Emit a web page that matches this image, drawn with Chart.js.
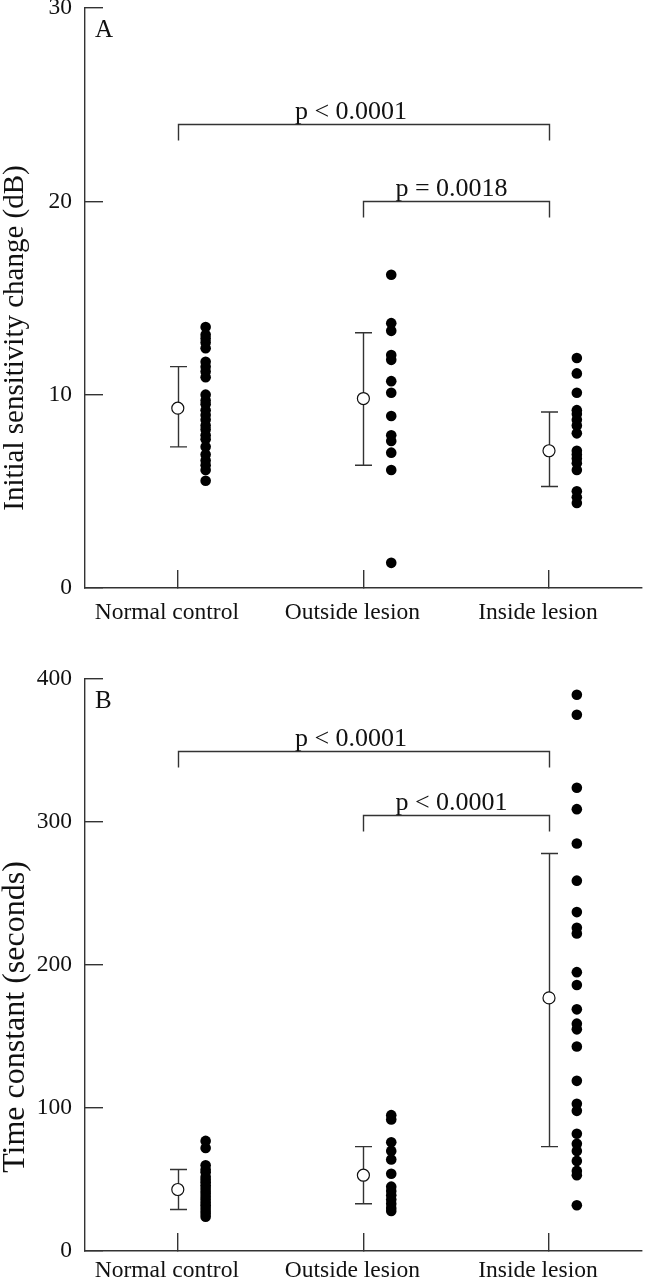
<!DOCTYPE html>
<html>
<head>
<meta charset="utf-8">
<script src="https://cdn.jsdelivr.net/npm/chart.js@4.4.0/dist/chart.umd.min.js"></script>
<style>
html,body{margin:0;padding:0;background:#fff;}
.panel{position:relative;width:649px;height:640px;overflow:hidden;}
canvas{display:block;}
</style>
</head>
<body>
<div class="panel"><canvas id="chartA" width="649" height="640"></canvas></div>
<div class="panel"><canvas id="chartB" width="649" height="640"></canvas></div>
<script>
// ---------- data ----------
const categories = ['Normal control', 'Outside lesion', 'Inside lesion'];

// Panel A: Initial sensitivity change (dB)
const aNormal  = [13.5, 13.1, 12.9, 12.7, 12.4, 11.7, 11.45, 11.2, 10.9, 10.0, 9.7, 9.5, 9.2, 8.95, 8.7, 8.4, 8.2, 7.9, 7.7, 7.3, 6.9, 6.6, 6.35, 6.1, 5.55];
const aOutside = [16.2, 13.7, 13.3, 12.05, 11.8, 10.7, 10.1, 8.9, 7.9, 7.6, 7.0, 6.1, 1.3];
const aInside  = [11.9, 11.1, 10.1, 9.2, 9.0, 8.7, 8.4, 8.0, 7.1, 6.9, 6.7, 6.45, 6.1, 5.0, 4.7, 4.4];
const aMean    = [9.3, 9.8, 7.1];
const aUpper   = [11.45, 13.2, 9.1];
const aLower   = [7.3, 6.35, 5.25];
const aTicks   = [0, 10, 20, 30];
const aBracketFrom  = [0, 1];
const aBracketTo    = [2, 2];
const aBracketY     = [24, 20];
const aBracketLabel = ['p < 0.0001', 'p = 0.0018'];

// Panel B: Time constant (seconds)
const bNormal  = [77, 72, 60, 57, 55, 52, 50, 48, 46, 44, 42, 40, 38, 36, 34, 32, 30, 28, 26, 24];
const bOutside = [95, 92, 76, 70, 64, 54, 45, 42, 39, 36, 33, 30, 28];
const bInside  = [389, 375, 324, 309, 285, 259, 237, 226, 222, 195, 186, 169, 159, 155, 143, 119, 103, 98, 82, 75, 70, 63, 56, 53, 32];
const bMean    = [43, 53, 177];
const bUpper   = [57, 73, 278];
const bLower   = [29, 33, 73];
const bTicks   = [0, 100, 200, 300, 400];
const bBracketFrom  = [0, 1];
const bBracketTo    = [2, 2];
const bBracketY     = [350, 305];
const bBracketLabel = ['p < 0.0001', 'p < 0.0001'];

// ---------- styles ----------
const SERIF = "'Liberation Serif', 'Times New Roman', serif";
const INK = '#111';
const LINE = '#333';
const DOT_OFFSET = 0.15;
const CAP = 8.5;
const LEG = 16;
const BRACKET_TEXT_SHIFT = [-13, -5];

function dotsFrom(groups) {
  const pts = [];
  groups.forEach((g, i) => g.forEach(v => pts.push({ x: i + DOT_OFFSET, y: v })));
  return pts;
}

function decoPlugin(p) {
  return {
    id: 'deco',
    beforeDatasetsDraw(chart) {
      const { ctx, scales: { x, y } } = chart;
      ctx.save();
      ctx.strokeStyle = LINE;
      ctx.lineWidth = 1.4;
      // error bars
      p.mean.forEach((m, i) => {
        const px = Math.round(x.getPixelForValue(i)) + 0.5;
        const yt = y.getPixelForValue(p.upper[i]);
        const yb = y.getPixelForValue(p.lower[i]);
        ctx.beginPath();
        ctx.moveTo(px, yt); ctx.lineTo(px, yb);
        ctx.moveTo(px - CAP, yt); ctx.lineTo(px + CAP, yt);
        ctx.moveTo(px - CAP, yb); ctx.lineTo(px + CAP, yb);
        ctx.stroke();
      });
      // significance brackets
      ctx.fillStyle = INK;
      ctx.font = '26px ' + SERIF;
      ctx.textAlign = 'center';
      ctx.textBaseline = 'alphabetic';
      p.bFrom.forEach((f, i) => {
        const x0 = Math.round(x.getPixelForValue(f)) + 0.5;
        const x1 = Math.round(x.getPixelForValue(p.bTo[i])) + 0.5;
        const by = Math.round(y.getPixelForValue(p.bY[i])) + 0.5;
        ctx.beginPath();
        ctx.moveTo(x0, by + LEG); ctx.lineTo(x0, by); ctx.lineTo(x1, by); ctx.lineTo(x1, by + LEG);
        ctx.stroke();
        ctx.fillText(p.bLabel[i], (x0 + x1) / 2 + BRACKET_TEXT_SHIFT[i], by - 6);
      });
      ctx.restore();
    },
    afterDraw(chart) {
      const { ctx, chartArea } = chart;
      ctx.save();
      ctx.fillStyle = INK;
      // panel letter
      ctx.font = '25px ' + SERIF;
      ctx.textAlign = 'left';
      ctx.textBaseline = 'middle';
      ctx.fillText(p.letter, chartArea.left + 10, chartArea.top + 22);
      // y axis title
      ctx.font = p.titleSize + 'px ' + SERIF;
      ctx.textAlign = 'center';
      ctx.textBaseline = 'middle';
      ctx.translate(p.titleX, p.titleY);
      ctx.rotate(-Math.PI / 2);
      ctx.fillText(p.title, 0, 0);
      ctx.restore();
    }
  };
}

function makeChart(id, p) {
  return new Chart(document.getElementById(id), {
    type: 'scatter',
    data: {
      datasets: [
        {
          data: p.mean.map((v, i) => ({ x: i, y: v })),
          pointRadius: 6,
          pointBackgroundColor: '#fff',
          pointBorderColor: '#111',
          pointBorderWidth: 1.2,
          order: 1
        },
        {
          data: dotsFrom(p.groups),
          pointRadius: 5.3,
          pointBackgroundColor: '#000',
          pointBorderWidth: 0,
          order: 2
        }
      ]
    },
    options: {
      responsive: false,
      animation: false,
      events: [],
      layout: { padding: { top: p.padTop, left: 0, right: 0, bottom: 0 } },
      plugins: { legend: { display: false }, tooltip: { enabled: false } },
      scales: {
        x: {
          type: 'linear',
          min: -0.5,
          max: 2.5,
          afterBuildTicks: s => { s.ticks = [0, 1, 2].map(v => ({ value: v })); },
          afterFit: s => { s.height = p.xHeight; s.paddingLeft = 0; s.paddingRight = 0; },
          ticks: {
            callback: v => categories[Math.round(v)],
            font: { family: SERIF, size: 23.5 },
            color: INK,
            padding: p.xLabelPad,
            labelOffset: -11,
            maxRotation: 0,
            autoSkip: false
          },
          grid: { drawOnChartArea: false, tickLength: -18, color: LINE, lineWidth: 1.4 },
          border: { color: LINE, width: 1.4 }
        },
        y: {
          min: 0,
          max: p.ticks[p.ticks.length - 1],
          afterBuildTicks: s => { s.ticks = p.ticks.map(v => ({ value: v })); },
          afterFit: s => { s.width = 85; s.paddingTop = 0; s.paddingBottom = 0; },
          ticks: {
            font: { family: SERIF, size: 23.5 },
            color: INK,
            padding: 31
          },
          grid: { drawOnChartArea: false, tickLength: -18, color: LINE, lineWidth: 1.4 },
          border: { color: LINE, width: 1.4 }
        }
      }
    },
    plugins: [decoPlugin(p)]
  });
}

makeChart('chartA', {
  groups: [aNormal, aOutside, aInside],
  mean: aMean, upper: aUpper, lower: aLower, ticks: aTicks,
  bFrom: aBracketFrom, bTo: aBracketTo, bY: aBracketY, bLabel: aBracketLabel,
  letter: 'A', title: 'Initial sensitivity change (dB)',
  titleX: 15, titleY: 338, titleSize: 29,
  padTop: 8, xHeight: 52, xLabelPad: 29
});

makeChart('chartB', {
  groups: [bNormal, bOutside, bInside],
  mean: bMean, upper: bUpper, lower: bLower, ticks: bTicks,
  bFrom: bBracketFrom, bTo: bBracketTo, bY: bBracketY, bLabel: bBracketLabel,
  letter: 'B', title: 'Time constant (seconds)',
  titleX: 16, titleY: 377, titleSize: 32,
  padTop: 39, xHeight: 29, xLabelPad: 24
});
</script>
</body>
</html>
